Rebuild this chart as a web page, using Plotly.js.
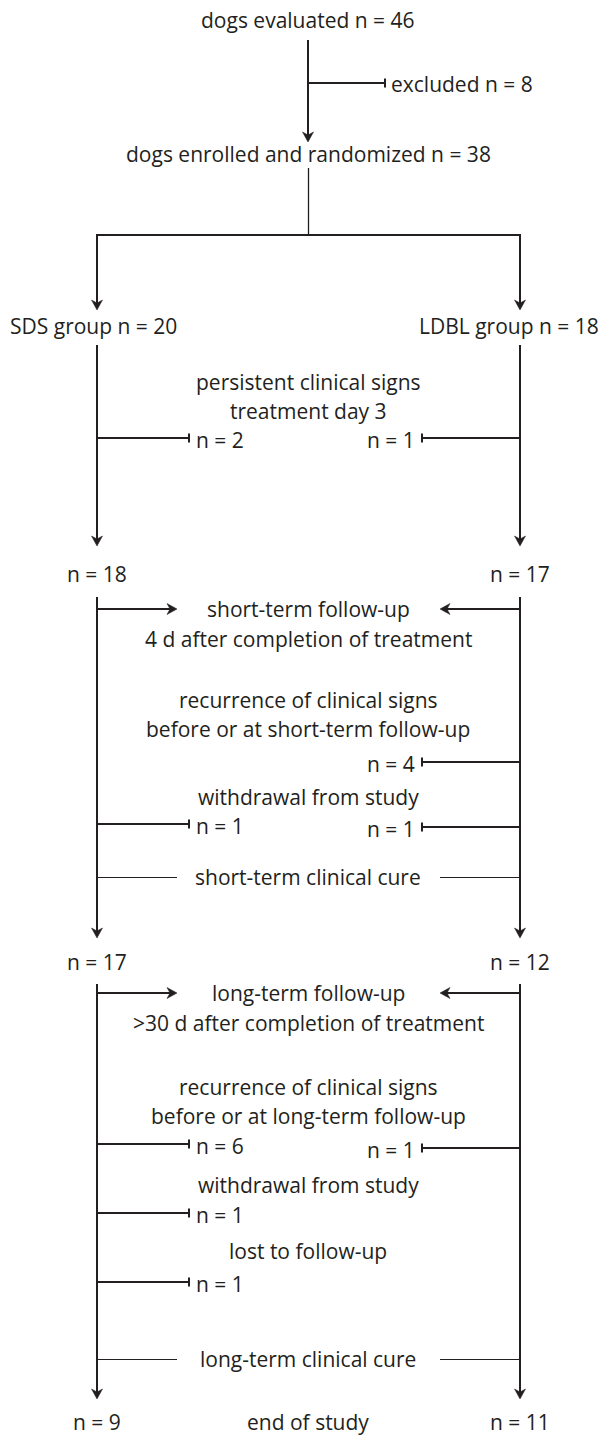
<!DOCTYPE html>
<html>
<head>
<meta charset="utf-8">
<script src="https://cdn.plot.ly/plotly-3.0.1.min.js"></script>
<style>html,body{margin:0;padding:0;background:#fff}#chart{width:603px;height:1436px}</style>
</head>
<body>
<div id="chart"></div>
<script>
// ---------------- data ----------------
const stageLabels = ['dogs evaluated', 'dogs enrolled and randomized'];
const stageN = [46, 38];
const excludedLabel = 'excluded';
const excludedN = 8;
const groupLabels = ['SDS group', 'LDBL group'];
const groupN = [20, 18];
const afterDay3N = [18, 17];
const afterShortN = [17, 12];
const endN = [9, 11];
const endLabel = 'end of study';
const persistentLabel = ['persistent clinical signs', 'treatment day 3'];
const persistentN = [2, 1];
const shortFollowLabel = ['short-term follow-up', '4 d after completion of treatment'];
const shortRecurLabel = ['recurrence of clinical signs', 'before or at short-term follow-up'];
const shortRecurN = [null, 4];
const shortWithdrawLabel = ['withdrawal from study'];
const shortWithdrawN = [1, 1];
const shortCureLabel = 'short-term clinical cure';
const longFollowLabel = ['long-term follow-up', '>30 d after completion of treatment'];
const longRecurLabel = ['recurrence of clinical signs', 'before or at long-term follow-up'];
const longRecurN = [6, 1];
const longWithdrawLabel = ['withdrawal from study'];
const longWithdrawN = [1, null];
const lostLabel = ['lost to follow-up'];
const lostN = [1, null];
const longCureLabel = 'long-term clinical cure';

// ---------------- layout geometry ----------------
const W = 603, H = 1436;
const INK = '#231f20';
const FONT = {family: '"Open Sans", Lato, sans-serif', size: 21, color: INK};
const XC = 308;
const COL = [97, 520];
const TICK = [189, 422];
const ARROW_IN = [177, 440];

const shapes = [];
const ann = [];
const nl = n => 'n = ' + n;

function seg(x0, y0, x1, y1, w) {
  shapes.push({type: 'line', xref: 'x', yref: 'y', x0, y0, x1, y1,
    line: {color: INK, width: w || 2}});
}
function headDown(x, y) {
  shapes.push({type: 'path', xref: 'x', yref: 'y',
    path: `M${x},${y} L${x-5.5},${y-10} L${x},${y-7} L${x+5.5},${y-10} Z`,
    fillcolor: INK, line: {color: INK, width: 0.5}});
}
function headSide(x, y, d) { // d=+1 pointing right, -1 left
  shapes.push({type: 'path', xref: 'x', yref: 'y',
    path: `M${x},${y} L${x-10*d},${y-5.5} L${x-7*d},${y} L${x-10*d},${y+5.5} Z`,
    fillcolor: INK, line: {color: INK, width: 0.5}});
}
function arrowDown(x, y0, y1) { seg(x, y0, x, y1 - 4, 2); headDown(x, y1); }
function label(x, y, text, anchor) {
  ann.push({x, y, xref: 'x', yref: 'y', text, showarrow: false,
    xanchor: anchor || 'center', yanchor: 'middle',
    borderpad: 0, font: FONT});
}
function textLines(lines, y0, gap) { lines.forEach((t, i) => label(XC, y0 + i * gap, t)); }
function exits(values, ys) {
  values.forEach((n, c) => {
    if (n === null) return;
    const y = ys[c];
    seg(COL[c], y, TICK[c], y, 2);
    seg(TICK[c], y - 4.5, TICK[c], y + 4.5, 2);
    label(TICK[c] + (c === 0 ? 6 : -6), y + 2, nl(n), c === 0 ? 'left' : 'right');
  });
}
function followUp(y) {
  [0, 1].forEach(c => {
    const d = c === 0 ? 1 : -1;
    seg(COL[c], y, ARROW_IN[c] - 4 * d, y, 2);
    headSide(ARROW_IN[c], y, d);
  });
}
function cureLine(y, text) {
  seg(COL[0], y + 0.5, ARROW_IN[0], y + 0.5, 1);
  seg(ARROW_IN[1], y + 0.5, COL[1], y + 0.5, 1);
  label(XC, y, text);
}

// top
label(XC, 20, stageLabels[0] + ' ' + nl(stageN[0]));
arrowDown(XC, 40, 142);
seg(XC, 83, 385, 83, 2);
seg(385, 78.5, 385, 87.5, 2);
label(390, 84, excludedLabel + ' ' + nl(excludedN), 'left');
label(XC, 154, stageLabels[1] + ' ' + nl(stageN[1]));
seg(XC + 0.5, 168, XC + 0.5, 235, 1.3);
seg(COL[0] - 1, 235, COL[1] + 1, 235, 2);
COL.forEach(x => arrowDown(x, 235, 310));
label(93, 326, groupLabels[0] + ' ' + nl(groupN[0]));
label(509, 326, groupLabels[1] + ' ' + nl(groupN[1]));

// treatment phase
COL.forEach(x => arrowDown(x, 345, 546));
textLines(persistentLabel, 382, 29);
exits(persistentN, [438, 438]);
afterDay3N.forEach((n, c) => label(COL[c], 574, nl(n)));

// short-term
COL.forEach(x => arrowDown(x, 597, 938));
followUp(609);
textLines(shortFollowLabel, 609, 30);
textLines(shortRecurLabel, 700, 29);
exits(shortRecurN, [null, 762]);
textLines(shortWithdrawLabel, 797, 30);
exits(shortWithdrawN, [824, 827]);
cureLine(877, shortCureLabel);
afterShortN.forEach((n, c) => label(COL[c], 962, nl(n)));

// long-term
COL.forEach(x => arrowDown(x, 984, 1399));
followUp(993);
textLines(longFollowLabel, 993, 30);
textLines(longRecurLabel, 1087, 29);
exits(longRecurN, [1144, 1148]);
textLines(longWithdrawLabel, 1185, 30);
exits(longWithdrawN, [1213, null]);
textLines(lostLabel, 1251, 30);
exits(lostN, [1282, null]);
cureLine(1359, longCureLabel);

// end
endN.forEach((n, c) => label(COL[c], 1422, nl(n)));
label(XC, 1422, endLabel);

Plotly.newPlot('chart', [{x: [], y: [], type: 'scatter', mode: 'markers', hoverinfo: 'skip'}], {
  width: W, height: H,
  margin: {l: 0, r: 0, t: 0, b: 0},
  paper_bgcolor: '#fff', plot_bgcolor: '#fff',
  showlegend: false,
  xaxis: {range: [0, W], visible: false, fixedrange: true},
  yaxis: {range: [H, 0], visible: false, fixedrange: true},
  shapes, annotations: ann
}, {staticPlot: true, displayModeBar: false});
</script>
</body>
</html>
